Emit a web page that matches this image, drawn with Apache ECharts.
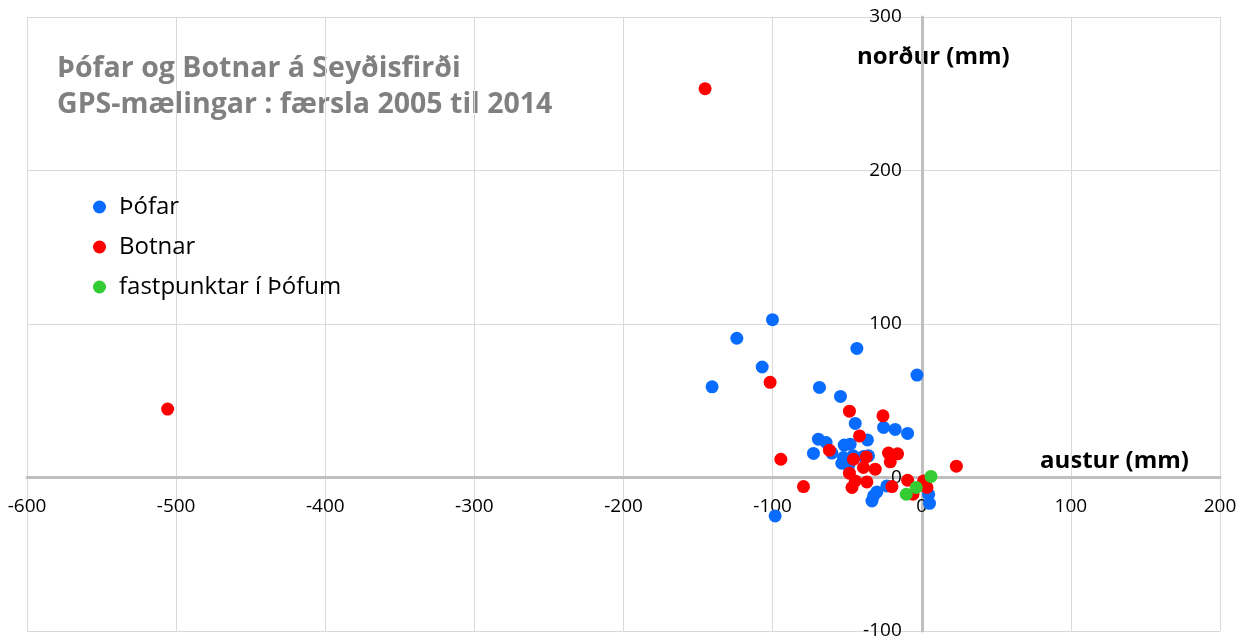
<!DOCTYPE html>
<html>
<head>
   <meta charset="utf-8">
   <title>Þófar og Botnar</title>
   <script type="text/javascript" src="https://cdn.jsdelivr.net/npm/echarts@6/dist/echarts.min.js"></script>
   <style type="text/css">
      html, body { margin: 0; padding: 0; background: #fff; }
      #chart { width: 1250px; height: 640px; }
   </style>
</head>
<body>
<div id="chart"></div>
<script type="text/javascript">
  // færsla [austur, norður] í mm
  var thofar = [
    [-100.1, 102.8], [-124.0, 90.7], [-107.0, 72.0], [-140.6, 59.1], [-43.5, 84.1],
    [-3.2, 66.7], [-68.6, 58.7], [-54.5, 52.8], [-44.6, 35.2], [-25.6, 32.6],
    [-17.8, 31.3], [-9.5, 28.7], [-69.3, 25.0], [-64.1, 22.8], [-52.0, 21.1],
    [-48.0, 21.7], [-36.4, 24.5], [-72.6, 15.7], [-60.3, 15.9], [-52.5, 13.0],
    [-46.0, 14.1], [-53.6, 9.3], [-39.1, 13.7], [-35.7, 14.1], [-49.1, 7.6],
    [-23.4, -5.5], [-30.1, -9.4], [-33.4, -15.3], [-32.3, -12.0], [4.6, -10.9],
    [5.2, -16.8], [-98.3, -25.0]
  ];
  var botnar = [
    [-145.3, 253.3], [-505.7, 44.6], [23.2, 7.4], [-101.7, 62.0], [-48.5, 43.2],
    [-26.0, 40.2], [-41.7, 27.1], [-61.9, 17.8], [-94.5, 11.9], [-45.8, 11.9],
    [-37.2, 13.4], [-22.3, 15.9], [-16.2, 15.4], [-21.1, 10.2], [-39.1, 6.5],
    [-31.2, 5.4], [-48.5, 2.8], [-44.6, -2.2], [-36.8, -2.9], [-46.8, -6.5],
    [-79.3, -5.9], [-20.0, -5.9], [-9.5, -1.8], [1.2, -2.2], [-5.9, -10.9],
    [3.5, -6.5]
  ];
  var fastpunktar = [
    [6.2, 0.7], [-3.7, -6.5], [-10.4, -10.9]
  ];
  var seriesNames = ['Þófar', 'Botnar', 'fastpunktar í Þófum'];
  var colors = ['#0a6cff', '#ff0000', '#33cc33'];

  var font = '"Open Sans", "Noto Sans", sans-serif';
  var chart = echarts.init(document.getElementById('chart'));

  // grid: 27..1220 px across (-600..200), 17..631 px down (300..-100)
  var gridW = 1193, gridH = 614;
  var xOffset = -gridH * 100 / 400;   // move x axis up to norður = 0
  var yOffset = -gridW * 600 / 800;   // move y axis right to austur = 0

  chart.setOption({
    animation: false,
    color: colors,
    textStyle: { fontFamily: font },
    grid: { left: 27, right: 30, top: 17, bottom: 9, containLabel: false, outerBoundsMode: 'none' },
    legend: {
      orient: 'vertical',
      left: 88,
      top: 189,
      icon: 'circle',
      itemWidth: 13,
      itemHeight: 13,
      itemGap: 14,
      textStyle: { fontFamily: font, fontSize: 24, color: '#000', lineHeight: 26, padding: [0, 0, 0, 8] },
      data: seriesNames
    },
    graphic: [
      {
        type: 'text', left: 57, top: 51,
        style: {
          text: 'Þófar og Botnar á Seyðisfirði\nGPS-mælingar : færsla 2005 til 2014',
          font: 'bold 28.5px ' + font, fill: '#808080', lineHeight: 36
        }
      },
      {
        type: 'text', left: 857, top: 45,
        style: { text: 'norður (mm)', font: 'bold 24px ' + font, fill: '#000' }
      },
      {
        type: 'text', left: 1040, top: 449,
        style: { text: 'austur (mm)', font: 'bold 24px ' + font, fill: '#000' }
      }
    ],
    xAxis: {
      type: 'value',
      min: -600, max: 200, interval: 100,
      position: 'bottom',
      offset: xOffset,
      axisLine: { onZero: false, lineStyle: { color: '#bfbfbf', width: 3 } },
      axisTick: { show: false },
      axisLabel: { color: '#000', fontSize: 19, margin: 20 },
      splitLine: { lineStyle: { color: '#d9d9d9', width: 1 } }
    },
    yAxis: {
      type: 'value',
      min: -100, max: 300, interval: 100,
      position: 'left',
      offset: yOffset,
      axisLine: { onZero: false, lineStyle: { color: '#bfbfbf', width: 3 } },
      axisTick: { show: false },
      axisLabel: { color: '#000', fontSize: 19, margin: 20 },
      splitLine: { lineStyle: { color: '#d9d9d9', width: 1 } }
    },
    series: [
      { name: seriesNames[0], type: 'scatter', symbolSize: 13, data: thofar, z: 2, itemStyle: { opacity: 1 } },
      { name: seriesNames[1], type: 'scatter', symbolSize: 13, data: botnar, z: 3, itemStyle: { opacity: 1 } },
      { name: seriesNames[2], type: 'scatter', symbolSize: 13, data: fastpunktar, z: 4, itemStyle: { opacity: 1 } }
    ]
  });
</script>
</body>
</html>
